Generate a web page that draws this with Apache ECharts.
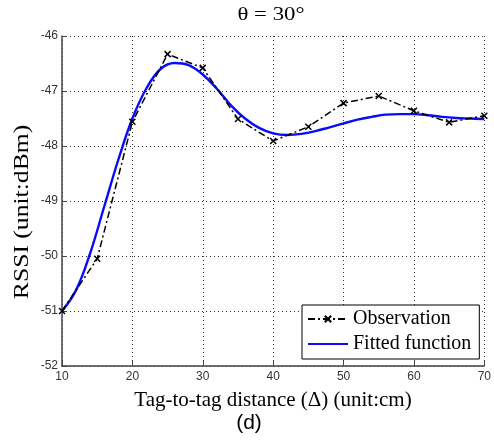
<!DOCTYPE html>
<html><head><meta charset="utf-8">
<script src="https://cdn.jsdelivr.net/npm/echarts@6/dist/echarts.min.js"></script>
<style>html,body{margin:0;padding:0;background:#fff}#c{width:494px;height:446px}</style>
</head><body><div id="c"></div>
<script>
const obsX = [10, 15, 20, 25, 30, 35, 40, 45, 50, 55, 60, 65, 70];
const obsY = [-51.0, -50.05, -47.56, -46.33, -46.58, -47.51, -47.91, -47.65, -47.22, -47.09, -47.36, -47.57, -47.45];
const fitX = [10,12,14,16,18,20,22,24,26,28,30,32,34,36,38,40,42,44,46,48,50,52,54,56,58,60,62,64,66,68,70];
const fitY = [-51.0,-50.62,-49.95,-49.1,-48.25,-47.5,-46.95,-46.6,-46.49,-46.53,-46.7,-46.96,-47.26,-47.5,-47.67,-47.77,-47.8,-47.78,-47.73,-47.66,-47.59,-47.52,-47.47,-47.43,-47.42,-47.42,-47.44,-47.47,-47.49,-47.5,-47.51];
const titleText = 'θ = 30°';
const xTitle = 'Tag-to-tag distance (Δ) (unit:cm)';
const yTitle = 'RSSI (unit:dBm)';
const caption = '(d)';

const chart = echarts.init(document.getElementById('c'), null, {renderer: 'canvas'});
const serif = 'Liberation Serif';
chart.setOption({
  animation: false,
  backgroundColor: '#fff',
  grid: {left: 62, right: 7, top: 36, bottom: 80},
  graphic: [
    {type: 'text', x: 271, y: 15, scaleX: 1.2, style: {text: titleText, font: '19px "Liberation Serif"', fill: '#000', align: 'center', verticalAlign: 'middle'}},
    {type: 'text', x: 273, y: 400, style: {text: xTitle, font: '21px "Liberation Serif"', fill: '#000', align: 'center', verticalAlign: 'middle'}},
    {type: 'text', x: 22, y: 212, rotation: Math.PI / 2, scaleX: 1.22, style: {text: yTitle, font: '21px "Liberation Serif"', fill: '#000', align: 'center', verticalAlign: 'middle'}},
    {type: 'text', x: 249, y: 423, style: {text: caption, font: '21px "Liberation Sans"', fill: '#000', align: 'center', verticalAlign: 'middle'}}
  ],
  xAxis: {
    type: 'value', min: 10, max: 70, interval: 10,
    axisLine: {show: true, lineStyle: {color: '#444', width: 1.5}},
    axisTick: {show: true, inside: true, length: 5, lineStyle: {color: '#444'}},
    axisLabel: {fontFamily: 'Liberation Sans', fontSize: 12, color: '#333', margin: 5},
    splitLine: {show: true, lineStyle: {type: [1, 3], color: '#333', width: 1}}
  },
  yAxis: {
    type: 'value', min: -52, max: -46, interval: 1,
    axisLine: {show: true, lineStyle: {color: '#444', width: 1.5}},
    axisTick: {show: true, inside: true, length: 5, lineStyle: {color: '#444'}},
    axisLabel: {fontFamily: 'Liberation Sans', fontSize: 12, color: '#333', margin: 4},
    splitLine: {show: true, lineStyle: {type: [1, 3], color: '#333', width: 1}}
  },
  legend: {
    orient: 'vertical', left: 302, top: 305,
    backgroundColor: '#fff', borderColor: '#000', borderWidth: 1, borderRadius: 0,
    padding: [4, 8, 5, 5], itemGap: 5, itemWidth: 40, itemHeight: 8,
    textStyle: {fontFamily: serif, fontSize: 20, color: '#000'},
    data: [
      {name: 'Observation'},
      {name: 'Fitted function', itemStyle: {opacity: 0, borderWidth: 0}}
    ]
  },
  series: [
    {
      name: 'Fitted function', type: 'line', smooth: 0.4, showSymbol: false, symbol: 'none',
      data: fitX.map((x, i) => [x, fitY[i]]),
      lineStyle: {color: '#0a0aff', width: 2.4}, itemStyle: {color: '#0a0aff'}, z: 2
    },
    {
      name: 'Observation', type: 'line',
      data: obsX.map((x, i) => [x, obsY[i]]),
      symbol: 'path://M0,0L10,10M10,0L0,10', symbolSize: 6,
      itemStyle: {color: '#000', borderColor: '#000', borderWidth: 1.5},
      lineStyle: {color: '#000', width: 1.5, type: [7, 3, 2, 3]}, z: 3
    }
  ]
});
</script></body></html>
